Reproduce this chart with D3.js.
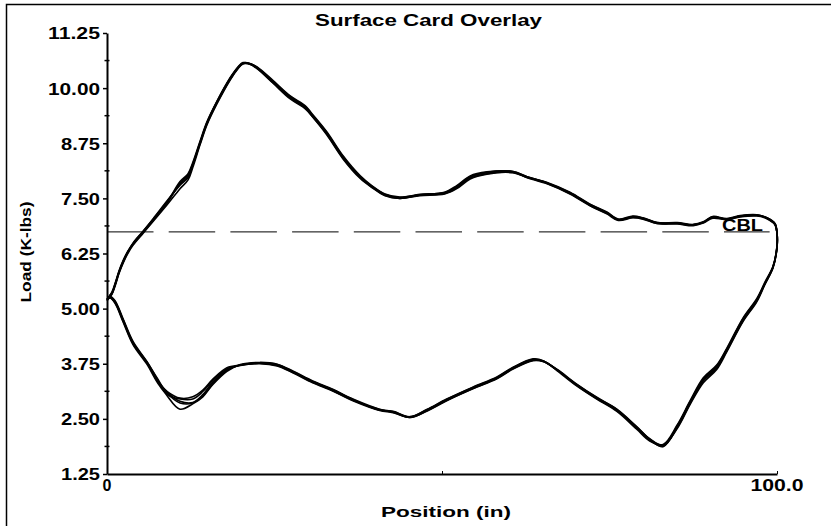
<!DOCTYPE html>
<html>
<head>
<meta charset="utf-8">
<script src="https://cdn.jsdelivr.net/npm/d3@7"></script>
<style>
  body { margin: 0; background: #fff; }
  svg text { font-family: "Liberation Sans", Arial, sans-serif; font-weight: bold; fill: #000; }
</style>
</head>
<body>
<div id="chart"></div>
<script>
// shared stroke positions (in), upstroke then downstroke
var position = [0,0.45,0.75,1.2,1.8,2.4,3.1,3.9,5.4,6.9, 9.0,10.9,12.1,12.8,13.9,14.9,16.4,18.4,19.6,20.3,
  21.3,22.4,24.8,27.3,29.6,30.6,32.8,35.2,37.8,39.6, 41.5,43.7,46.7,50.4,52.2,54.2,56.7,60.6,62.7,65.7,
  69.1,72.1,74.6,76.3,78.5,80.0,82.1,85.1,87.5,89.0, 90.4,92.5,94.5,97.0,98.5,99.7,100,
  100,99.4,98.2,97.0,94.9,92.5,91.0,89.0,87.0,85.1, 83.0,81.0,79.1,76.1,73.1,70.1,67.2,65.1,63.6,60.6,
  58.2,54.6,50.7,47.8,45.2,42.7,40.7,36.7,33.7,30.7, 27.8,25.4,22.8,19.9,17.9,15.8,14.3,12.8,10.9,9.0,
  7.5,6.0,3.9,2.4,1.2,0.45,0];

// load (K-lbs) of each overlaid card
var card1 = [5.20,5.29,5.35,5.54,5.83,6.06,6.28,6.47,6.74,7.01, 7.40,7.85,8.03,8.28,8.78,9.21,9.69,10.23,10.48,10.57,
  10.55,10.46,10.14,9.80,9.57,9.39,8.98,8.44,7.98,7.76, 7.58,7.51,7.58,7.62,7.76,7.98,8.08,8.10,7.98,7.85,
  7.62,7.35,7.17,7.01,7.08,7.05,6.94,6.94,6.90,6.96, 7.08,7.03,7.10,7.12,7.05,6.92,6.71,
  6.40,5.94,5.58,5.20,4.74,4.06,3.68,3.38,2.86,2.32, 1.88,2.02,2.29,2.70,2.97,3.27,3.61,3.81,3.84,3.65,
  3.43,3.20,2.93,2.70,2.54,2.66,2.70,2.93,3.15,3.34, 3.56,3.72,3.77,3.72,3.61,3.34,3.05,2.87,2.90,3.10,
  3.38,3.77,4.22,4.74,5.15,5.26,5.20];
var card2 = [5.18,5.30,5.38,5.57,5.86,6.09,6.30,6.49,6.76,7.04, 7.45,7.80,7.97,8.25,8.75,9.18,9.66,10.20,10.46,10.55,
  10.54,10.44,10.11,9.76,9.53,9.36,8.94,8.40,7.95,7.74, 7.56,7.50,7.56,7.60,7.72,7.94,8.05,8.08,7.97,7.83,
  7.60,7.33,7.15,7.00,7.06,7.03,6.93,6.92,6.88,6.94, 7.05,7.02,7.08,7.10,7.04,6.90,6.70,
  6.38,5.92,5.55,5.16,4.70,4.02,3.62,3.32,2.82,2.28, 1.90,2.05,2.32,2.72,2.99,3.29,3.62,3.80,3.82,3.63,
  3.41,3.18,2.91,2.68,2.53,2.64,2.69,2.91,3.13,3.32, 3.54,3.70,3.75,3.71,3.63,3.38,3.12,2.95,2.95,3.05,
  3.33,3.73,4.18,4.70,5.12,5.24,5.18];
var card3 = [5.22,5.27,5.33,5.51,5.80,6.03,6.25,6.44,6.71,6.98, 7.36,7.72,7.92,8.20,8.72,9.16,9.64,10.19,10.45,10.56,
  10.56,10.48,10.17,9.83,9.60,9.42,9.01,8.47,8.01,7.78, 7.60,7.53,7.59,7.64,7.79,8.01,8.10,8.11,7.99,7.86,
  7.64,7.37,7.19,7.03,7.10,7.06,6.95,6.95,6.91,6.97, 7.09,7.04,7.11,7.13,7.06,6.93,6.72,
  6.42,5.96,5.60,5.23,4.78,4.10,3.72,3.43,2.90,2.36, 1.92,2.00,2.26,2.67,2.95,3.25,3.59,3.82,3.86,3.67,
  3.45,3.22,2.95,2.72,2.55,2.67,2.72,2.95,3.17,3.36, 3.58,3.74,3.78,3.73,3.58,3.28,3.00,2.84,2.72,3.02,
  3.40,3.79,4.25,4.77,5.18,5.28,5.22];
var card4 = [5.19,5.31,5.36,5.55,5.84,6.07,6.29,6.46,6.73,7.00, 7.42,7.88,8.06,8.31,8.80,9.23,9.70,10.24,10.49,10.58,
  10.55,10.45,10.12,9.78,9.55,9.37,8.96,8.42,7.97,7.75, 7.57,7.50,7.57,7.61,7.74,7.96,8.06,8.09,7.98,7.84,
  7.61,7.34,7.16,7.02,7.07,7.04,6.93,6.93,6.89,6.95, 7.07,7.02,7.09,7.11,7.05,6.91,6.71,
  6.41,5.95,5.57,5.18,4.72,4.04,3.65,3.36,2.84,2.30, 1.87,2.03,2.30,2.71,2.98,3.28,3.60,3.80,3.83,3.64,
  3.42,3.19,2.92,2.69,2.53,2.65,2.71,2.92,3.14,3.33, 3.55,3.71,3.76,3.72,3.66,3.40,3.15,3.00,2.97,3.12,
  3.36,3.76,4.20,4.72,5.14,5.25,5.19];
var card5 = [5.21,5.28,5.34,5.53,5.82,6.05,6.27,6.48,6.75,7.03, 7.43,7.82,8.00,8.26,8.76,9.20,9.68,10.22,10.47,10.57,
  10.56,10.47,10.15,9.81,9.58,9.40,8.99,8.45,7.99,7.77, 7.59,7.52,7.58,7.63,7.77,7.99,8.09,8.11,7.99,7.85,
  7.63,7.36,7.18,7.02,7.09,7.05,6.95,6.94,6.90,6.96, 7.08,7.03,7.10,7.12,7.06,6.92,6.71,
  6.39,5.93,5.56,5.21,4.76,4.08,3.70,3.40,2.88,2.34, 1.89,2.04,2.31,2.69,2.96,3.26,3.61,3.81,3.85,3.66,
  3.44,3.21,2.94,2.71,2.54,2.66,2.70,2.94,3.16,3.35, 3.57,3.73,3.77,3.72,3.60,3.30,3.02,2.86,2.86,3.08,
  3.42,3.78,4.23,4.75,5.16,5.27,5.21];

var yTicks = [1.25,2.50,3.75,5.00,6.25,7.50,8.75,10.00,11.25];
var yMinor = [1.875,3.125,4.375,5.625,6.875,8.125,9.375,10.625];
var xTicks = [0,50,100];
var cbl = 6.74;

var width = 831, height = 526;
var svg = d3.select('#chart').append('svg')
    .attr('width', width)
    .attr('height', height);

// outer frame
svg.append('rect')
    .attr('x', 6.5).attr('y', 4.5)
    .attr('width', 900).attr('height', 900)
    .style('fill', 'none').style('stroke', '#000').style('stroke-width', 1.5);

var x = d3.scaleLinear().domain([0, 100]).range([107, 777]);
var y = d3.scaleLinear().domain([1.25, 11.25]).range([474, 33]);

// y axis
var yAxis = svg.append('g')
    .attr('transform', 'translate(' + x(0) + ',0)')
    .call(d3.axisLeft(y).tickValues(yTicks).tickSize(4).tickSizeOuter(0).tickFormat(d3.format('.2f')));
yAxis.select('.domain').style('stroke-width', 2);
yAxis.selectAll('.tick line').style('stroke-width', 1.5);
yAxis.selectAll('.tick text')
    .attr('x', -7)
    .attr('dy', '0.37em')
    .style('font-size', '16px')
    .style('font-family', '"Liberation Sans", Arial, sans-serif')
    .attr('lengthAdjust', 'spacingAndGlyphs')
    .attr('textLength', function (d) { return d >= 10 ? 52 : 39; });

svg.selectAll('.minor')
    .data(yMinor).enter()
    .append('line')
      .attr('x1', x(0) - 2.5).attr('x2', x(0) + 2.5)
      .attr('y1', function (d) { return y(d); })
      .attr('y2', function (d) { return y(d); })
      .style('stroke', '#000').style('stroke-width', 1.5);

// x axis
var xAxis = svg.append('g')
    .attr('transform', 'translate(0,' + y(1.25) + ')')
    .call(d3.axisTop(x).tickValues(xTicks).tickSize(3).tickSizeOuter(0).tickFormat(''));
xAxis.select('.domain').style('stroke-width', 2);
xAxis.selectAll('.tick line').style('stroke-width', 1);

svg.append('text')
    .attr('x', x(0)).attr('y', 491)
    .attr('text-anchor', 'middle')
    .style('font-size', '16px')
    .text('0');
svg.append('text')
    .attr('x', x(100)).attr('y', 491)
    .attr('text-anchor', 'middle')
    .style('font-size', '16px')
    .attr('textLength', 53).attr('lengthAdjust', 'spacingAndGlyphs')
    .text('100.0');

// CBL dashed line
svg.append('line')
    .attr('x1', x(0)).attr('x2', x(98.9))
    .attr('y1', y(cbl)).attr('y2', y(cbl))
    .style('stroke', '#000').style('stroke-width', 1)
    .style('stroke-dasharray', '46.5,15.2');

// cards
var line = d3.line()
    .x(function (d) { return x(d[0]); })
    .y(function (d) { return y(d[1]); })
    .curve(d3.curveCatmullRom.alpha(0.5));

[card1, card2, card3, card4, card5].forEach(function (card) {
  svg.append('path')
      .datum(position.map(function (p, i) { return [p, card[i]]; }))
      .attr('d', line)
      .style('fill', 'none')
      .style('stroke', '#000')
      .style('stroke-width', 1.6);
});

svg.append('text')
    .attr('x', 722).attr('y', y(cbl) - 1)
    .style('font-size', '16px')
    .attr('textLength', 41).attr('lengthAdjust', 'spacingAndGlyphs')
    .text('CBL');

// titles
svg.append('text')
    .attr('x', 315).attr('y', 26)
    .style('font-size', '16px')
    .attr('textLength', 227).attr('lengthAdjust', 'spacingAndGlyphs')
    .text('Surface Card Overlay');
svg.append('text')
    .attr('x', 381).attr('y', 517)
    .style('font-size', '15px')
    .attr('textLength', 130).attr('lengthAdjust', 'spacingAndGlyphs')
    .text('Position (in)');
svg.append('text')
    .attr('transform', 'translate(31,252) rotate(-90)')
    .attr('text-anchor', 'middle')
    .style('font-size', '15px')
    .attr('textLength', 101).attr('lengthAdjust', 'spacingAndGlyphs')
    .text('Load (K-lbs)');
</script>
</body>
</html>
